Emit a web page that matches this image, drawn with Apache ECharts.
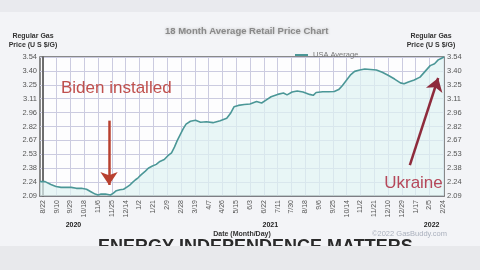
<!DOCTYPE html>
<html><head><meta charset="utf-8">
<script src="https://cdn.jsdelivr.net/npm/echarts@6/dist/echarts.min.js"></script>
<style>html,body{margin:0;padding:0;background:#f3f4f7}#c{width:480px;height:270px}</style>
</head><body><div id="c"></div>
<script>
// Day offsets counted from 8/22/2020 (day 0)
const dayIndex = [-4,3,11,18,25,32,39,46,53,60,66,72,76,80,86,93,97,101,106,111,115,119,123,127,131,135,141,145,150,156,161,167,172,177,181,185,189,193,197,203,210,217,225,234,244,253,258,263,269,277,285,294,301,307,314,323,331,336,343,350,358,367,372,376,385,393,401,407,412,418,423,429,436,443,451,459,467,475,484,492,497,503,511,519,526,533,539,544,548,552];
const prices = [2.24,2.24,2.21,2.19,2.18,2.18,2.18,2.17,2.17,2.16,2.135,2.11,2.10,2.11,2.11,2.10,2.12,2.145,2.155,2.16,2.18,2.20,2.23,2.257,2.28,2.31,2.35,2.38,2.40,2.42,2.45,2.47,2.51,2.54,2.60,2.67,2.73,2.79,2.84,2.87,2.88,2.86,2.865,2.855,2.876,2.90,2.95,3.02,3.035,3.045,3.05,3.075,3.06,3.09,3.125,3.15,3.165,3.145,3.175,3.185,3.175,3.15,3.14,3.17,3.178,3.178,3.18,3.20,3.24,3.30,3.35,3.39,3.405,3.415,3.41,3.405,3.38,3.35,3.31,3.27,3.26,3.28,3.30,3.33,3.39,3.45,3.47,3.51,3.525,3.54];
const xTickDays = [0,19,38,57,76,95,114,133,152,171,190,209,228,247,266,285,304,323,342,361,380,399,418,437,456,475,494,513,532,551];
const xTickLabels = ['8/22','9/10','9/29','10/18','11/6','11/25','12/14','1/2','1/21','2/9','2/28','3/19','4/7','4/26','5/15','6/3','6/22','7/11','7/30','8/18','9/6','9/25','10/14','11/2','11/21','12/10','12/29','1/17','2/5','2/24'];
const yearDays = [42,313,535];
const yearLabels = ['2020','2021','2022'];
const yTickLabels = ['2.09','2.24','2.38','2.53','2.67','2.82','2.96','3.11','3.25','3.40','3.54'];
const seriesName = 'USA Average';

const F = 'Liberation Sans, Arial, sans-serif';
const yMin = 2.09, yMax = 3.54, yStep = 0.145;
function yFmt(v){ const i = Math.round((v - yMin) / yStep); return yTickLabels[i] || ''; }
function xFmt(v){ const i = xTickDays.indexOf(Math.round(v)); return i >= 0 ? xTickLabels[i] : ''; }
function yrFmt(v){ const i = yearDays.indexOf(Math.round(v)); return i >= 0 ? yearLabels[i] : ''; }

const chart = echarts.init(document.getElementById('c'), null, {renderer:'canvas'});
const yName = 'Regular Gas\nPrice (U S $/G)';
const yAxisBase = {
  type:'value', min:yMin, max:yMax, interval:yStep,
  axisLine:{show:true, lineStyle:{color:'#666', width:1.5}},
  axisTick:{show:false},
  axisLabel:{formatter:yFmt, color:'#555', fontSize:7.5, fontFamily:F, margin:3}
};
const arrowA = {color:'#b8402f', width:2.5, type:'solid'};
const arrowB = {color:'#8e2b3c', width:2.5, type:'solid'};
chart.setOption({
  backgroundColor:'#f3f4f7',
  animation:false,
  title:{text:'18 Month Average Retail Price Chart', left:160, top:21,
    textStyle:{color:'#8a8a8a', fontSize:9.5, fontWeight:'bold', fontFamily:F, textShadowColor:'#bbb', textShadowBlur:3}},
  legend:{data:[seriesName], left:290, top:46, icon:'rect', itemWidth:13, itemHeight:2,
    textStyle:{color:'#777', fontSize:7.5, fontFamily:F}},
  grid:{left:40, right:36, top:57, bottom:74, show:true, backgroundColor:'#fdfdfe', borderColor:'#666', borderWidth:1.5},
  xAxis:[{
    type:'value', min:-4, max:552,
    name:'Date (Month/Day)', nameLocation:'middle', nameGap:35,
    nameTextStyle:{color:'#333', fontSize:7, fontWeight:'bold', fontFamily:F},
    axisLine:{show:true, lineStyle:{color:'#666', width:1.5}},
    axisTick:{show:false, customValues:xTickDays},
    axisLabel:{customValues:xTickDays, formatter:xFmt, rotate:90, color:'#555', fontSize:7, fontFamily:F, margin:4},
    splitLine:{show:true, lineStyle:{color:'#cbcbe0', width:1}}
  },{
    type:'value', min:-4, max:552, position:'bottom', offset:18,
    axisLine:{show:false}, axisTick:{show:false, customValues:yearDays}, splitLine:{show:false},
    axisLabel:{customValues:yearDays, formatter:yrFmt, color:'#222', fontSize:7, fontWeight:'bold', fontFamily:F}
  }],
  yAxis:[
    Object.assign({}, yAxisBase, {position:'left', splitLine:{show:true, lineStyle:{color:'#cbcbe0', width:1}}}),
    Object.assign({}, yAxisBase, {position:'right', splitLine:{show:false}})
  ],
  series:[{
    name:seriesName, type:'line', xAxisIndex:0, yAxisIndex:0,
    data:dayIndex.map((d,i)=>[d, prices[i]]),
    showSymbol:false, lineStyle:{color:'#4b9797', width:1.6}, itemStyle:{color:'#4b9797'},
    areaStyle:{color:'#def2f2', origin:'start'},
    markLine:{
      silent:true, symbol:['none','arrow'], symbolSize:13, label:{show:false},
      data:[
        [{coord:[91,2.876], symbol:'none', lineStyle:arrowA, itemStyle:{color:'#b8402f'}},{coord:[91,2.205], symbol:'arrow', symbolSize:13, itemStyle:{color:'#b8402f'}}],
        [{coord:[505,2.413], symbol:'none', lineStyle:arrowB, itemStyle:{color:'#8e2b3c'}},{coord:[544,3.321], symbol:'arrow', symbolSize:13, itemStyle:{color:'#8e2b3c'}}]
      ]
    },
    markPoint:{
      silent:true, symbol:'circle', symbolSize:1, itemStyle:{color:'transparent'},
      label:{show:true, position:'inside', formatter:'{b}', color:'#c0504d', fontSize:17, fontFamily:F},
      data:[
        {name:'Biden installed', coord:[101,3.217]},
        {name:'Ukraine', coord:[510,2.226], label:{color:'#b5485a'}}
      ]
    }
  }],
  graphic:[
    {type:'rect', shape:{x:0, y:0, width:480, height:12}, style:{fill:'#e9eaee'}, z:-5},
    {type:'text', x:33, y:32, style:{text:yName, fill:'#333', font:'bold 7px '+F, align:'center', lineHeight:8.5}},
    {type:'text', x:431, y:32, style:{text:yName, fill:'#333', font:'bold 7px '+F, align:'center', lineHeight:8.5}},
    {type:'text', left:372, top:230, style:{text:'©2022 GasBuddy.com', fill:'#aab0bd', font:'7.5px '+F}},
    {type:'text', left:98, top:238, style:{text:'ENERGY INDEPENDENCE MATTERS', fill:'#2a2a2a', font:'bold 18px '+F}, z:10},
    {type:'rect', shape:{x:0, y:246, width:480, height:24}, style:{fill:'#e8e9ec'}, z:11}
  ]
});
</script></body></html>
